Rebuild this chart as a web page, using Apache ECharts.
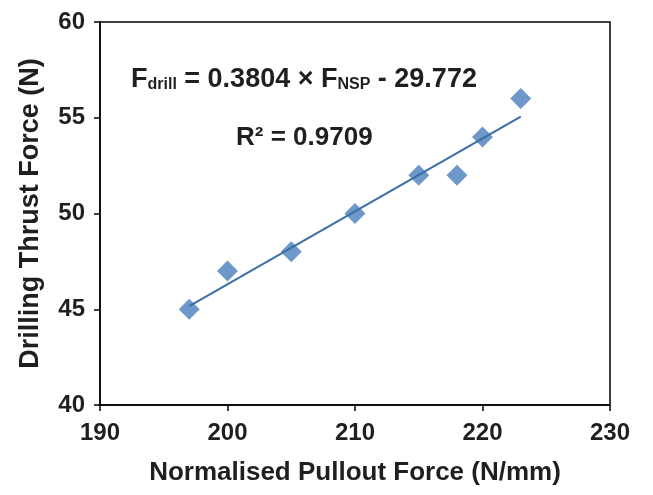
<!DOCTYPE html>
<html>
<head>
<meta charset="utf-8">
<script src="https://cdn.jsdelivr.net/npm/echarts@6/dist/echarts.min.js"></script>
<style>
  html, body { margin: 0; padding: 0; background: #fff; }
  #chart { width: 653px; height: 495px; }
</style>
</head>
<body>
<div id="chart"></div>
<script>
// Measured samples: normalised pullout force vs drilling thrust force
const pulloutForce = [197, 200, 205, 210, 215, 218, 220, 223];
const thrustForce  = [45, 47, 48, 50, 52, 52, 54, 56];

// Linear fit reported on the chart
const fitSlope = 0.3804;
const fitIntercept = -29.772;
const fitR2 = '0.9709';

const xTicks = [190, 200, 210, 220, 230];
const yTicks = [40, 45, 50, 55, 60];

const points = pulloutForce.map((x, i) => [x, thrustForce[i]]);
const xMin = Math.min(...pulloutForce), xMax = Math.max(...pulloutForce);
const fitLine = [xMin, xMax].map(x => [x, fitSlope * x + fitIntercept]);

const FONT = '"Liberation Sans", Arial, sans-serif';
const TEXT = '#1f1f1f';
const chart = echarts.init(document.getElementById('chart'));

chart.setOption({
  animation: false,
  grid: {
    left: 100, top: 22, right: 43, bottom: 90,
    show: true, borderColor: '#000', borderWidth: 1.5
  },
  xAxis: {
    type: 'value',
    min: xTicks[0], max: xTicks[xTicks.length - 1], interval: 10,
    name: 'Normalised Pullout Force (N/mm)',
    nameLocation: 'middle', nameGap: 55,
    nameTextStyle: { fontFamily: FONT, fontWeight: 'bold', fontSize: 26, color: TEXT },
    axisLine: { lineStyle: { color: '#000', width: 1.5 } },
    axisTick: { show: true, length: 6, lineStyle: { color: '#000', width: 1.5 } },
    axisLabel: { fontFamily: FONT, fontWeight: 'bold', fontSize: 24, color: TEXT, margin: 16 },
    splitLine: { show: false }
  },
  yAxis: {
    type: 'value',
    min: yTicks[0], max: yTicks[yTicks.length - 1], interval: 5,
    name: 'Drilling Thrust Force (N)',
    nameLocation: 'middle', nameGap: 56,
    nameTextStyle: { fontFamily: FONT, fontWeight: 'bold', fontSize: 27, color: TEXT },
    axisLine: { show: true, lineStyle: { color: '#000', width: 1.5 } },
    axisTick: { show: true, length: 6, lineStyle: { color: '#000', width: 1.5 } },
    axisLabel: { fontFamily: FONT, fontWeight: 'bold', fontSize: 24, color: TEXT, margin: 15 },
    splitLine: { show: false }
  },
  graphic: [
    {
      type: 'text', left: 131, top: 66,
      style: {
        text: '{m|F}{s|drill}{m| = 0.3804 × F}{s|NSP}{m| - 29.772}',
        rich: {
          m: { fontFamily: FONT, fontWeight: 'bold', fontSize: 27, fill: TEXT, verticalAlign: 'bottom' },
          s: { fontFamily: FONT, fontWeight: 'bold', fontSize: 16, fill: TEXT, padding: [10, 0, 0, 0], verticalAlign: 'bottom' }
        }
      }
    },
    {
      type: 'text', left: 236, top: 125,
      style: {
        text: 'R² = ' + fitR2,
        fontFamily: FONT, fontWeight: 'bold', fontSize: 26, fill: TEXT
      }
    }
  ],
  series: [
    {
      type: 'line',
      data: fitLine,
      symbol: 'none',
      lineStyle: { color: '#3a6ea5', width: 2 },
      z: 3
    },
    {
      type: 'scatter',
      data: points,
      symbol: 'diamond',
      symbolSize: 21,
      itemStyle: { color: '#4a7ebb' },
      z: 2
    }
  ]
});
</script>
</body>
</html>
